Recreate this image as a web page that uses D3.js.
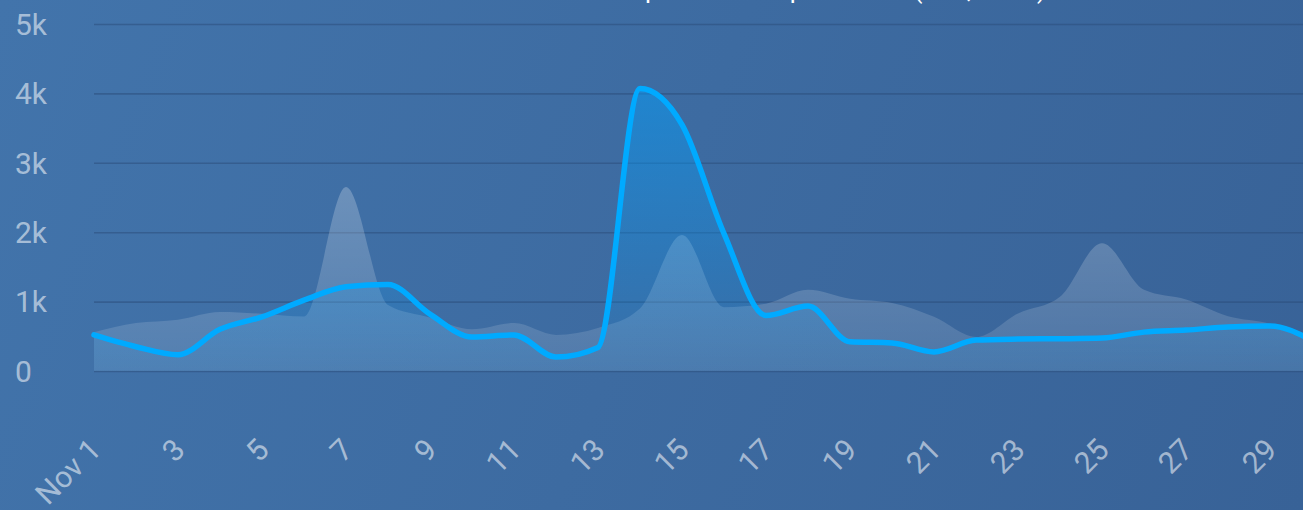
<!DOCTYPE html>
<html>
<head>
<meta charset="utf-8">
<script src="https://cdn.jsdelivr.net/npm/d3@7"></script>
<style>
  html, body { margin: 0; padding: 0; overflow: hidden; background: #3e6ba2; }
  svg { display: block; }
</style>
</head>
<body>
<svg id="chart" width="1303" height="510"></svg>
<script>
// Daily visitors for November, with the previous period shown behind
const days = d3.range(1, 31);
const visitors = [520, 350, 235, 600, 780, 1020, 1215, 1245, 820, 490,
                  520, 200, 340, 4070, 3550, 1980, 800, 935, 420, 405,
                  275, 445, 460, 465, 475, 560, 590, 635, 650, 440];
const previousVisitors = [560, 690, 740, 850, 825, 785, 2650, 950, 770, 600,
                          690, 520, 620, 900, 1960, 920, 970, 1170, 1040, 980,
                          780, 490, 830, 1070, 1840, 1170, 1030, 790, 680, 450];
const tickDays = [1, 3, 5, 7, 9, 11, 13, 15, 17, 19, 21, 23, 25, 27, 29];
const tickLabels = ["Nov 1", "3", "5", "7", "9", "11", "13", "15", "17", "19", "21", "23", "25", "27", "29"];
const yTicks = [0, 1000, 2000, 3000, 4000, 5000];
const yTickLabels = ["0", "1k", "2k", "3k", "4k", "5k"];
const titleText = "Sessions compared to the past week (Nov, 2019)";

const W = 1303, H = 510;
const svg = d3.select("#chart");
const defs = svg.append("defs");

const x = d3.scaleLinear().domain([1, 30]).range([94, 1312]);
const y = d3.scaleLinear().domain([0, 5000]).range([371, 24]);

// background
const bg = defs.append("linearGradient").attr("id", "bg")
  .attr("gradientUnits", "userSpaceOnUse")
  .attr("x1", 0).attr("y1", 0).attr("x2", W).attr("y2", H);
bg.append("stop").attr("offset", 0).attr("stop-color", "#4274ab");
bg.append("stop").attr("offset", 1).attr("stop-color", "#386297");
svg.append("rect").attr("width", W).attr("height", H).attr("fill", "url(#bg)");

// area fills
const blueFill = defs.append("linearGradient").attr("id", "blueFill")
  .attr("gradientUnits", "userSpaceOnUse")
  .attr("x1", 0).attr("y1", y(4200)).attr("x2", 0).attr("y2", y(0));
blueFill.append("stop").attr("offset", 0).attr("stop-color", "#00a0ff").attr("stop-opacity", 0.5);
blueFill.append("stop").attr("offset", 1).attr("stop-color", "#00a0ff").attr("stop-opacity", 0.06);

const greyFill = defs.append("linearGradient").attr("id", "greyFill")
  .attr("gradientUnits", "userSpaceOnUse")
  .attr("x1", 0).attr("y1", y(2700)).attr("x2", 0).attr("y2", y(0));
greyFill.append("stop").attr("offset", 0).attr("stop-color", "#ffffff").attr("stop-opacity", 0.24);
greyFill.append("stop").attr("offset", 1).attr("stop-color", "#ffffff").attr("stop-opacity", 0.1);

// title (sits mostly above the visible area)
svg.append("text")
  .attr("x", 1046).attr("y", -2)
  .attr("text-anchor", "end")
  .attr("font-family", "Roboto, sans-serif")
  .attr("font-size", 26)
  .attr("fill", "#ffffff")
  .text(titleText);

// horizontal grid
const yAxis = d3.axisLeft(y).tickValues(yTicks).tickSize(-(W - 94)).tickFormat("");
const gy = svg.append("g").attr("transform", "translate(94,0)").call(yAxis);
gy.select(".domain").remove();
gy.selectAll(".tick line").attr("stroke", "#2c4f7c").attr("stroke-opacity", 0.55).attr("stroke-width", 1.6);

// y labels, left aligned
svg.append("g").selectAll("text").data(yTicks).join("text")
  .attr("x", 15).attr("y", d => y(d))
  .attr("dy", "0.36em")
  .attr("font-family", "Roboto, sans-serif")
  .attr("font-size", 30)
  .attr("fill", "#ffffff").attr("fill-opacity", 0.55)
  .text((d, i) => yTickLabels[i]);

// x labels, rotated
svg.append("g").selectAll("text").data(tickDays).join("text")
  .attr("transform", d => `translate(${x(d) + 3},446) rotate(-45)`)
  .attr("text-anchor", "end")
  .attr("dominant-baseline", "middle")
  .attr("font-family", "Roboto, sans-serif")
  .attr("font-size", 30)
  .attr("fill", "#ffffff").attr("fill-opacity", 0.55)
  .text((d, i) => tickLabels[i]);

const curve = d3.curveMonotoneX;

// previous period
svg.append("path")
  .datum(days)
  .attr("fill", "url(#greyFill)")
  .attr("d", d3.area().curve(curve).x(d => x(d)).y0(y(0)).y1((d, i) => y(previousVisitors[i])));

// current period
svg.append("path")
  .datum(days)
  .attr("fill", "url(#blueFill)")
  .attr("d", d3.area().curve(curve).x(d => x(d)).y0(y(0)).y1((d, i) => y(visitors[i])));

svg.append("path")
  .datum(days)
  .attr("fill", "none")
  .attr("stroke", "#00aaff")
  .attr("stroke-width", 5.5)
  .attr("stroke-linejoin", "round")
  .attr("stroke-linecap", "round")
  .attr("d", d3.line().curve(curve).x(d => x(d)).y((d, i) => y(visitors[i])));
</script>
</body>
</html>
